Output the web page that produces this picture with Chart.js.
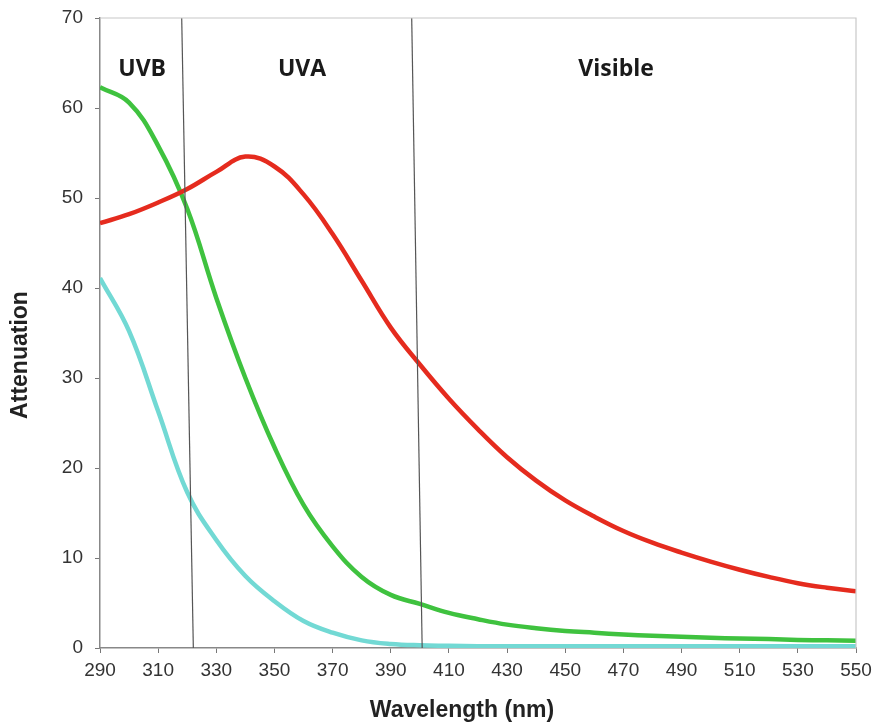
<!DOCTYPE html>
<html>
<head>
<meta charset="utf-8">
<script src="https://cdn.jsdelivr.net/npm/chart.js@4.4.0/dist/chart.umd.min.js"></script>
<style>
  html, body { margin: 0; padding: 0; background: #fff; }
  #wrap { width: 873px; height: 724px; position: relative; }
</style>
</head>
<body>
<div id="wrap"><canvas id="chartAttenuation" width="873" height="724"></canvas></div>
<script>
// Longueurs d'onde (nm)
const wavelengths = [290, 300, 310, 320, 330, 340, 350, 360, 370, 380, 390, 400, 410, 420,
                     430, 440, 450, 460, 470, 480, 490, 500, 510, 520, 530, 540, 550];

// Courbes d'atténuation
const redValues = [47.2, 48.2, 49.5, 51.0, 52.9, 54.6, 53.5, 50.4, 46.0, 40.8, 35.6, 31.5, 27.7, 24.3,
                   21.2, 18.6, 16.4, 14.6, 13.0, 11.7, 10.6, 9.6, 8.7, 7.9, 7.2, 6.7, 6.3];
const greenValues = [62.3, 60.6, 55.8, 48.8, 38.9, 30.0, 22.3, 15.9, 11.3, 7.9, 5.9, 4.9, 3.9, 3.2,
                     2.6, 2.2, 1.9, 1.7, 1.5, 1.35, 1.25, 1.15, 1.05, 1.0, 0.9, 0.85, 0.8];
const cyanValues = [41.1, 35.2, 26.3, 17.3, 12.0, 8.0, 5.2, 3.0, 1.7, 0.85, 0.45, 0.3, 0.25, 0.2,
                    0.2, 0.2, 0.2, 0.2, 0.2, 0.2, 0.2, 0.2, 0.2, 0.2, 0.2, 0.2, 0.2];

// Limites UVB / UVA / Visible (lignes légèrement inclinées)
const boundaryUVB = [{ x: 318.1, y: 70 }, { x: 322.1, y: 0 }];
const boundaryUVA = [{ x: 397.2, y: 70 }, { x: 400.8, y: 0 }];

// Étiquettes des zones
const regionLabels = ['UVB', 'UVA', 'Visible'];
const regionCenters = [304.5, 359.5, 467.5];

function toPoints(values) {
    return wavelengths.map((w, i) => ({ x: w, y: values[i] }));
}

// Cadre haut / droite + textes
const decorPlugin = {
    id: 'decor',
    afterDraw(chart) {
        const ctx = chart.ctx;
        const a = chart.chartArea;
        const xs = chart.scales.x;
        const ys = chart.scales.y;
        ctx.save();
        ctx.strokeStyle = '#c8c8c8';
        ctx.lineWidth = 1.2;
        ctx.beginPath();
        ctx.moveTo(a.left, a.top);
        ctx.lineTo(a.right, a.top);
        ctx.lineTo(a.right, a.bottom);
        ctx.stroke();

        ctx.fillStyle = '#1a1a1a';
        ctx.font = 'bold 23px "Open Sans"';
        ctx.textAlign = 'center';
        ctx.textBaseline = 'middle';
        regionLabels.forEach((txt, i) => {
            ctx.fillText(txt, xs.getPixelForValue(regionCenters[i]), ys.getPixelForValue(64.3));
        });

        ctx.fillStyle = '#222';
        ctx.font = 'bold 23px "Liberation Sans"';
        ctx.fillText('Wavelength (nm)', 462, 711);
        ctx.translate(21, 355);
        ctx.rotate(-Math.PI / 2);
        ctx.fillText('Attenuation', 0, 0);
        ctx.restore();
    }
};

const lineStyle = { borderWidth: 4.5, pointRadius: 0, tension: 0.4, fill: false };
const boundaryStyle = { borderColor: '#555', borderWidth: 1.2, pointRadius: 0, tension: 0, fill: false };

const ctx = document.getElementById('chartAttenuation').getContext('2d');
const chartAttenuation = new Chart(ctx, {
    type: 'line',
    data: {
        datasets: [
            { label: 'UVB limit', data: boundaryUVB, ...boundaryStyle },
            { label: 'UVA limit', data: boundaryUVA, ...boundaryStyle },
            { label: 'Red', data: toPoints(redValues), borderColor: '#e52b1e', ...lineStyle },
            { label: 'Green', data: toPoints(greenValues), borderColor: '#3fc23f', ...lineStyle },
            { label: 'Cyan', data: toPoints(cyanValues), borderColor: '#72d9d4', ...lineStyle }
        ]
    },
    options: {
        responsive: false,
        animation: false,
        layout: { padding: { left: 0, right: 17, top: 18, bottom: 0 } },
        plugins: {
            legend: { display: false },
            tooltip: { enabled: false }
        },
        scales: {
            x: {
                type: 'linear',
                min: 290,
                max: 550,
                afterFit(scale) {
                    scale.height = 76;
                    scale.paddingLeft = 0;
                    scale.paddingRight = 0;
                },
                ticks: {
                    stepSize: 20,
                    maxRotation: 0,
                    autoSkip: false,
                    padding: 6,
                    color: '#333',
                    font: { family: '"Liberation Sans"', size: 19 }
                },
                grid: { drawOnChartArea: false, drawTicks: true, tickLength: 5, color: '#777' },
                border: { color: '#888', width: 1.5 }
            },
            y: {
                min: 0,
                max: 70,
                afterFit(scale) {
                    scale.width = 100;
                    scale.paddingTop = 0;
                    scale.paddingBottom = 0;
                },
                ticks: {
                    stepSize: 10,
                    padding: 12,
                    color: '#333',
                    font: { family: '"Liberation Sans"', size: 19 }
                },
                grid: { drawOnChartArea: false, drawTicks: true, tickLength: 5, color: '#777' },
                border: { color: '#888', width: 1.5 }
            }
        }
    },
    plugins: [decorPlugin]
});
</script>
</body>
</html>
